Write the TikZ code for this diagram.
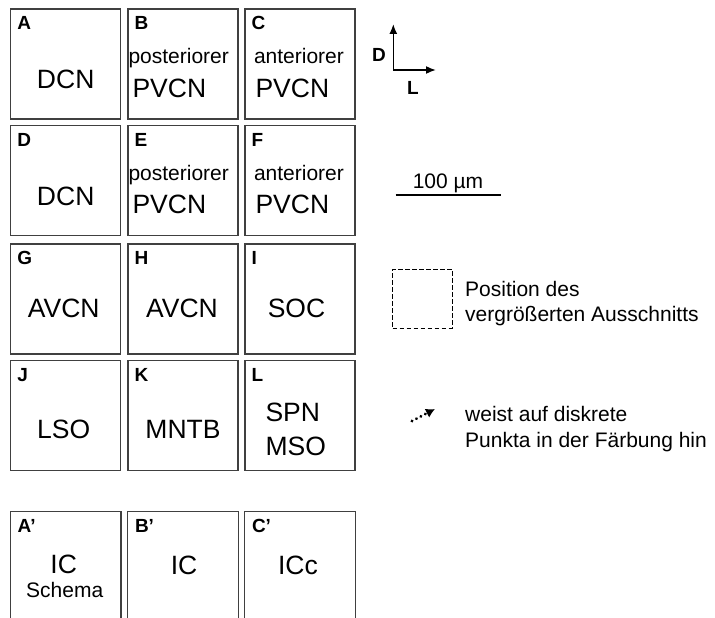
\documentclass[tikz,border=0pt]{standalone}
\usepackage{fontspec}
\setmainfont{Liberation Sans}
\usetikzlibrary{calc,arrows,arrows.meta,positioning}
\tikzset{
myPanel/.style={
	rectangle, draw=black!75, line width=1.3pt,
	minimum size=110pt, inner sep=0pt
}
, myOpenPanel/.style={
	rectangle, minimum width=110pt, minimum height=106pt, inner sep=0pt
}
, myBorder/.style={draw=black!75, line width=1.3pt}
% texts
, myTag/.style={font=\fontsize{19}{19}\selectfont\bfseries, inner sep=0pt, anchor=base west}
, myName/.style={font=\fontsize{26.5}{30}\selectfont, inner sep=0pt, anchor=base}
, mySmall/.style={font=\fontsize{21}{24}\selectfont, inner sep=0pt, anchor=base}
, myLegend/.style={font=\fontsize{21}{25}\selectfont, inner sep=0pt, anchor=base west}
% legend
, myAxis/.style={{Latex[length=10pt,width=8pt]}-{Latex[length=10pt,width=8pt]}, line width=1.6pt}
, myCutout/.style={draw, dash pattern=on 4.5pt off 2.5pt, line width=1pt, minimum width=59.6pt, minimum height=59pt, inner sep=0pt}
, myDots/.style={-{Latex[length=9pt,width=10pt]}, line width=3.2pt, line cap=round, dash pattern=on 0.01pt off 5pt}
}
\begin{document}
\begin{tikzpicture}[x=1pt,y=-1pt]
	\useasboundingbox (0,0) rectangle (715,618);
	% panels
	\node[myPanel] (A) at ( 65.7, 64) {};
	\node[myPanel] (B) at (183, 64) {};
	\node[myPanel] (C) at (300, 64) {};
	\node[myPanel] (D) at ( 65.7,180.7) {};
	\node[myPanel] (E) at (183,180.7) {};
	\node[myPanel] (F) at (300,180.7) {};
	\node[myPanel] (G) at ( 65.7,299) {};
	\node[myPanel] (H) at (183,299) {};
	\node[myPanel] (I) at (300,299) {};
	\node[myPanel] (J) at ( 65.7,415.7) {};
	\node[myPanel] (K) at (183,415.7) {};
	\node[myPanel] (L) at (300,415.7) {};
	% open panels at the bottom
	\node[myOpenPanel] (Aprime) at ( 65.7,565) {};
	\node[myOpenPanel] (Bprime) at (183,565) {};
	\node[myOpenPanel] (Cprime) at (300,565) {};
	\draw[myBorder] (Aprime.south west) -- (Aprime.north west) -- (Aprime.north east) -- (Aprime.south east);
	\draw[myBorder] (Bprime.south west) -- (Bprime.north west) -- (Bprime.north east) -- (Bprime.south east);
	\draw[myBorder] (Cprime.south west) -- (Cprime.north west) -- (Cprime.north east) -- (Cprime.south east);

	% panel letters
	\node[myTag] (tagA) at ($(A.north west)+(7,21.5)$) {A};
	\node[myTag] (tagB) at ($(B.north west)+(7,21.5)$) {B};
	\node[myTag] (tagC) at ($(C.north west)+(7,21.5)$) {C};
	\node[myTag] (tagD) at ($(D.north west)+(7,21.5)$) {D};
	\node[myTag] (tagE) at ($(E.north west)+(7,21.5)$) {E};
	\node[myTag] (tagF) at ($(F.north west)+(7,21.5)$) {F};
	\node[myTag] (tagG) at ($(G.north west)+(7,21.5)$) {G};
	\node[myTag] (tagH) at ($(H.north west)+(7,21.5)$) {H};
	\node[myTag] (tagI) at ($(I.north west)+(7,21.5)$) {I};
	\node[myTag] (tagJ) at ($(J.north west)+(7,21.5)$) {J};
	\node[myTag] (tagK) at ($(K.north west)+(7,21.5)$) {K};
	\node[myTag] (tagL) at ($(L.north west)+(7,21.5)$) {L};
	\node[myTag] (tagAp) at ($(Aprime.north west)+(7,21)$) {A’};
	\node[myTag] (tagBp) at ($(Bprime.north west)+(7,21)$) {B’};
	\node[myTag] (tagCp) at ($(Cprime.north west)+(7,21)$) {C’};

	% region names
	\node[myName] (nameA) at ($(A.north)+(0,80)$) {DCN};
	\node[mySmall, anchor=base west] (upB) at ($(B.north west)+(1,55.3)$) {posteriorer};
	\node[myName, anchor=base west] (nameB) at ($(B.north west)+(5,88.7)$) {PVCN};
	\node[mySmall, anchor=base west] (upC) at ($(C.north west)+(9.5,55.3)$) {anteriorer};
	\node[myName, anchor=base west] (nameC) at ($(C.north west)+(11,88.7)$) {PVCN};

	\node[myName] (nameD) at ($(D.north)+(0,80)$) {DCN};
	\node[mySmall, anchor=base west] (upE) at ($(E.north west)+(1,55.3)$) {posteriorer};
	\node[myName, anchor=base west] (nameE) at ($(E.north west)+(5,88.7)$) {PVCN};
	\node[mySmall, anchor=base west] (upF) at ($(F.north west)+(9.5,55.3)$) {anteriorer};
	\node[myName, anchor=base west] (nameF) at ($(F.north west)+(11,88.7)$) {PVCN};

	\node[myName] (nameG) at ($(G.north)+(-2,74.3)$) {AVCN};
	\node[myName] (nameH) at ($(H.north)+(-1,74.3)$) {AVCN};
	\node[myName] (nameI) at ($(I.north)+(-3.5,74.3)$) {SOC};

	\node[myName] (nameJ) at ($(J.north)+(-2,78.3)$) {LSO};
	\node[myName] (nameK) at ($(K.north)+(0,78.3)$) {MNTB};
	\node[myName, anchor=base west] (upL) at ($(L.north west)+(21,61.3)$) {SPN};
	\node[myName, anchor=base west] (nameL) at ($(L.north west)+(21,95)$) {MSO};

	\node[myName] (nameAp) at ($(Aprime.north)+(-2,62)$) {IC};
	\node[mySmall] (subAp) at ($(Aprime.north)+(-1,86)$) {Schema};
	\node[myName] (nameBp) at ($(Bprime.north)+(1,63)$) {IC};
	\node[myName] (nameCp) at ($(Cprime.north)+(-2,63)$) {ICc};

	% legend: orientation
	\coordinate (dorsal) at (393.3,24);
	\coordinate (lateral) at (436,70);
	\draw[myAxis] (dorsal) |- (lateral);
	\node[myTag, anchor=center] (dirD) at (379,55) {D};
	\node[myTag, anchor=center] (dirL) at (413,88) {L};

	% legend: scale bar
	\coordinate (barL) at (395.7,195);
	\coordinate (barR) at (500.7,195);
	\draw[line width=1.5pt] (barL) -- (barR);
	\node[myLegend, anchor=base] (barText) at (448,188.3) {100 µm};

	% legend: cutout
	\node[myCutout] (cutout) at (422.5,298.8) {};
	\node[myLegend] (cutText) at (465,296) {Position des};
	\node[myLegend] (cutTextB) at (465,321) {vergrößerten Ausschnitts};

	% legend: dotted arrow
	\coordinate (dotS) at (412,421);
	\coordinate (dotE) at (435,409);
	\draw[myDots] (dotS) -- (dotE);
	\node[myLegend] (dotText) at (465,421.7) {weist auf diskrete};
	\node[myLegend] (dotTextB) at (465,447.3) {Punkta in der Färbung hin};
\end{tikzpicture}
\end{document}
